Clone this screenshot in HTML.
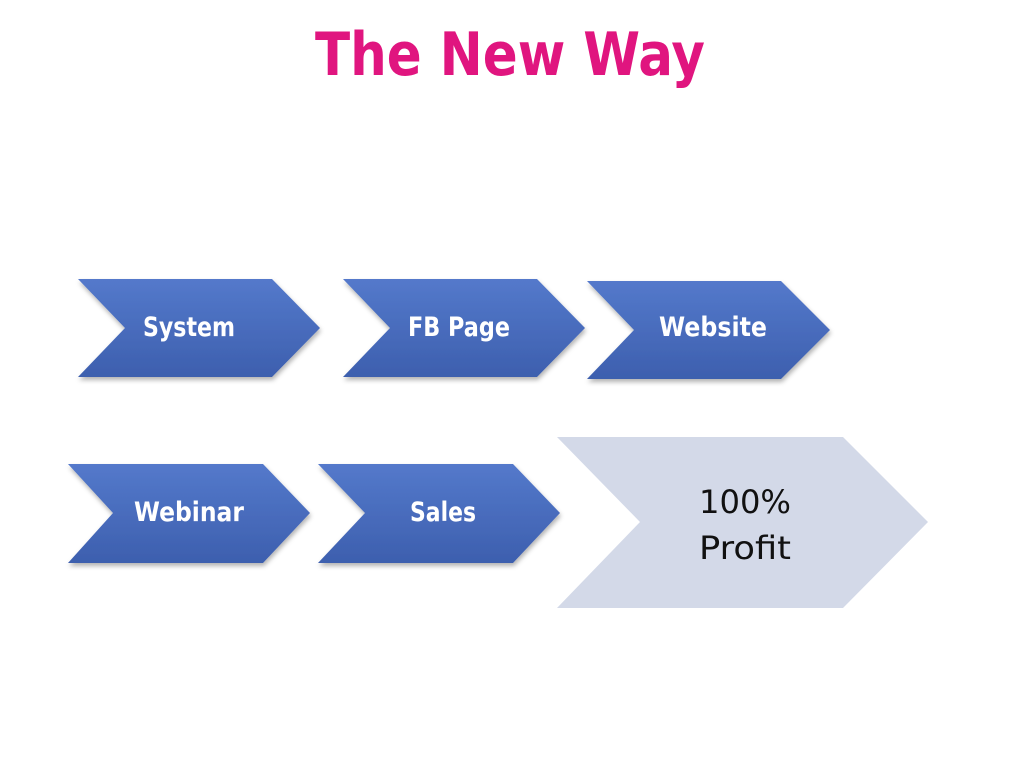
<!DOCTYPE html>
<html><head><meta charset="utf-8"><style>html,body{margin:0;padding:0;background:#fff;}svg{display:block}</style></head>
<body>
<svg width="1024" height="768" viewBox="0 0 1024 768" xmlns="http://www.w3.org/2000/svg">
<defs>
<linearGradient id="g" x1="0" y1="0" x2="0" y2="1">
<stop offset="0" stop-color="#5479cb"/><stop offset="1" stop-color="#3d5fae"/>
</linearGradient>
<filter id="s" x="-10%" y="-10%" width="130%" height="130%"><feDropShadow dx="1" dy="3" stdDeviation="2.5" flood-color="#000" flood-opacity="0.3"/></filter>
</defs>
<rect width="1024" height="768" fill="#fff"/>
<text x="510" y="75" text-anchor="middle" font-family="'DejaVu Sans','Liberation Sans',sans-serif" font-weight="bold" font-size="60" fill="#e0157f" textLength="390" lengthAdjust="spacingAndGlyphs">The New Way</text>
<g filter="url(#s)" fill="url(#g)">
<polygon points="78,279 272,279 320,328 272,377 78,377 125,328"/>
<polygon points="343,279 537,279 585,328 537,377 343,377 390,328"/>
<polygon points="587,281 781,281 830,330 781,379 587,379 634,330"/>
<polygon points="68,464 263,464 310,513 263,563 68,563 113,513"/>
<polygon points="318,464 513,464 560,513 513,563 318,563 365,513"/>
</g>
<polygon points="557,437 843,437 928,522 843,608 557,608 640,522" fill="#d3d9e8"/>
<g font-family="'DejaVu Sans','Liberation Sans',sans-serif" font-weight="bold" font-size="27" fill="#fff" text-anchor="middle">
<text x="189" y="336" textLength="92" lengthAdjust="spacingAndGlyphs">System</text>
<text x="459" y="336" textLength="102" lengthAdjust="spacingAndGlyphs">FB Page</text>
<text x="713" y="336" textLength="108" lengthAdjust="spacingAndGlyphs">Website</text>
<text x="189" y="521" textLength="110" lengthAdjust="spacingAndGlyphs">Webinar</text>
<text x="443" y="521" textLength="66" lengthAdjust="spacingAndGlyphs">Sales</text>
</g>
<g font-family="'DejaVu Sans','Liberation Sans',sans-serif" font-size="32" fill="#111" text-anchor="middle">
<text x="745" y="513" textLength="92" lengthAdjust="spacingAndGlyphs">100%</text>
<text x="745" y="559" textLength="92" lengthAdjust="spacingAndGlyphs">Profit</text>
</g>
</svg>
</body></html>
